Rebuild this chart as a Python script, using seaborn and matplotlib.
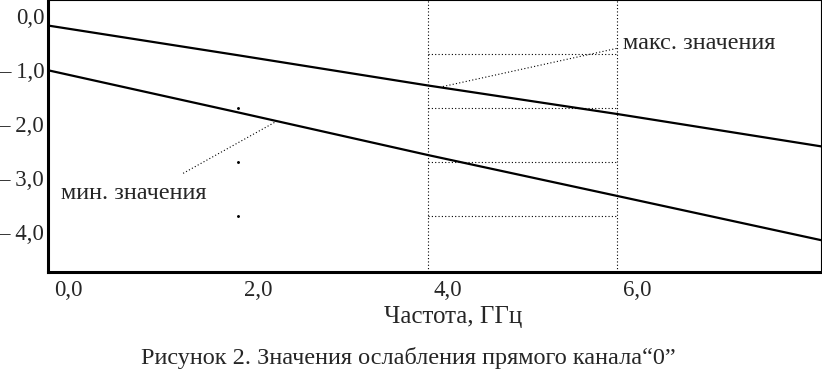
import numpy as np
import pandas as pd
import seaborn as sns
import matplotlib.pyplot as plt
import matplotlib.transforms as mtrans

sns.set_style("white")
plt.rcParams['font.family'] = ['Liberation Serif', 'DejaVu Serif']

# data
freq = [0.0, 2.0, 4.0, 6.0, 8.15]
att_max = [-0.17, -0.72, -1.28, -1.81, -2.41]
att_min = [-1.00, -1.78, -2.57, -3.33, -4.15]

xticks = [0.0, 2.0, 4.0, 6.0]
xticklabels = ["0,0", "2,0", "4,0", "6,0"]
yticks = [0.0, -1.0, -2.0, -3.0, -4.0]
yticklabels = ["0,0", "\u2013 1,0", "\u2013 2,0", "\u2013 3,0", "\u2013 4,0"]

grid_x = [4.0, 6.0]
grid_y = [-0.7, -1.7, -2.7, -3.7]
speck_x = [2.0, 2.0, 2.0]
speck_y = [-1.7, -2.7, -3.7]

df = pd.DataFrame({"freq": freq * 2,
                   "att": att_max + att_min,
                   "curve": ["max"] * len(freq) + ["min"] * len(freq)})

fig = plt.figure(figsize=(8.22, 3.75), dpi=100)
ax = fig.add_axes([0.059, 0.2747, 0.9400, 0.7240])

dots = (0, (1, 2))
for gx in grid_x:
    ax.axvline(gx, color="black", lw=0.8, ls=dots)
ax.hlines(grid_y, grid_x[0], grid_x[1], color="black", lw=0.8, linestyles=[dots])
ax.scatter(speck_x, speck_y, s=1.2, color="black", zorder=3)

sns.lineplot(data=df, x="freq", y="att", units="curve", estimator=None,
             color="black", lw=1.6, legend=False, ax=ax)

# annotation leaders
ax.plot([1.42, 2.39], [-2.91, -1.96], color="black", lw=0.8, ls=dots)
ax.plot([4.16, 6.0], [-1.30, -0.59], color="black", lw=0.8, ls=dots)
ax.text(0.13, -3.28, "мин. значения", fontsize=17.5, ha="left", va="center")
ax.text(6.06, -0.50, "макс. значения", fontsize=17.5, ha="left", va="center")

ax.set_xlim(0, 8.15)
ax.set_ylim(-4.74, 0.296)

ax.set_xticks(xticks)
ax.set_xticklabels(xticklabels, fontsize=16.5)
ax.set_yticks(yticks)
ax.set_yticklabels(yticklabels, fontsize=16.5)
ax.tick_params(axis="both", length=0)
ax.tick_params(axis="y", pad=3)
ax.tick_params(axis="x", pad=6)
off = mtrans.ScaledTranslation(20 / 100, 0, fig.dpi_scale_trans)
for lab in ax.get_xticklabels():
    lab.set_transform(lab.get_transform() + off)

ax.set_xlabel("Частота, ГГц", fontsize=18)
ax.set_ylabel("")
ax.xaxis.set_label_coords(0.5236, -0.166)
ax.xaxis.label.set_va("center")

for side in ["left", "bottom"]:
    ax.spines[side].set_linewidth(2.2)
    ax.spines[side].set_color("black")
for side in ["top", "right"]:
    ax.spines[side].set_linewidth(0.8)
    ax.spines[side].set_color("black")

fig.text(0.497, 0.0453, "Рисунок 2. Значения ослабления прямого канала\u201c0\u201d",
         fontsize=17.5, ha="center", va="center")

plt.savefig("out.png", dpi=100)
